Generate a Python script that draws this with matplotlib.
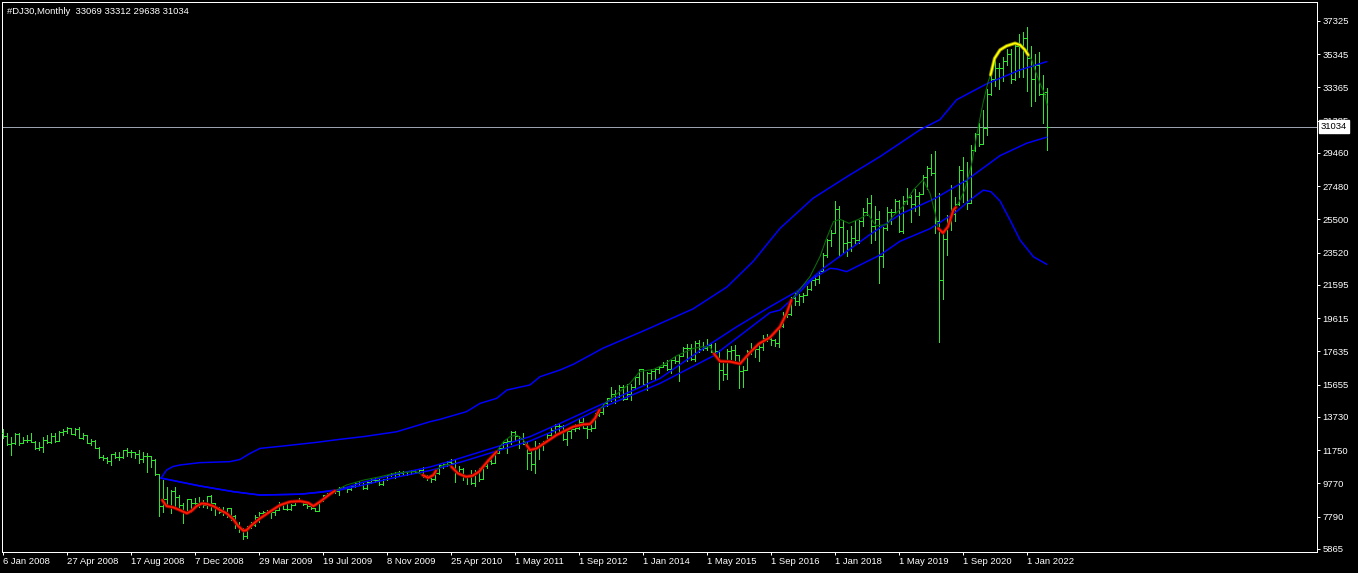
import numpy as np
import matplotlib.pyplot as plt
from matplotlib.transforms import blended_transform_factory

plt.rcParams['font.family'] = ['Liberation Sans', 'DejaVu Sans']

# OHLC bars (weekly 2008-2010, then monthly up to Jun 2022)
opens = [
    12800, 12606, 12099, 12207, 12743, 12182, 12348, 12381, 12266, 11894,
    11951, 12361, 12216, 12609, 12325, 12849, 12891, 13058, 12745, 12986,
    12479, 12638, 12209, 12307, 11870, 11346, 11288, 11100, 11496, 11370,
    11326, 11734, 11659, 11628, 11543, 11220, 11421, 11388, 11143, 10325,
    8451, 8852, 8378, 9325, 8943, 8497, 8046, 8829, 8635, 8629,
    8579, 8515, 9034, 8599, 8281, 8077, 8000, 8280, 7850, 7366,
    7062, 6627, 7224, 7279, 7776, 8018, 8083, 8131, 8076, 8212,
    8575, 8268, 8277, 8500, 8764, 8799, 8539, 8438, 8280, 8146,
    8743, 9093, 9171, 9370, 9321, 9505, 9544, 9441, 9605, 9820,
    9665, 9487, 9865, 9996, 9972, 9713, 10023, 10250, 10320, 10310,
    10390, 10470, 10330, 10520, 10430, 10600, 10170, 10070, 10010, 10400,
    10850, 10950, 11050, 11010, 10380, 10620, 10190, 10140, 9774, 10466,
    10015, 10788, 11118, 11006, 11578, 11892, 12226, 12320, 12811, 12570,
    12414, 12143, 11614, 10913, 11955, 12046, 12218, 12633, 12952, 13212,
    13214, 12393, 12880, 13009, 13091, 13437, 13096, 13026, 13104, 13861,
    14054, 14579, 14840, 15116, 14910, 15500, 14810, 15130, 15546, 16086,
    16577, 15699, 16322, 16458, 16581, 16717, 16827, 16563, 17098, 17043,
    17391, 17828, 17823, 17165, 18133, 17776, 17841, 18011, 17620, 17690,
    16528, 16285, 17664, 17720, 17425, 16466, 16517, 17685, 17774, 17787,
    17930, 18432, 18401, 18308, 18142, 19124, 19763, 19864, 20812, 20663,
    20941, 21009, 21350, 21891, 21948, 22405, 23377, 24272, 24719, 26149,
    25029, 24103, 24163, 24416, 24271, 25415, 25965, 26458, 25116, 25538,
    23327, 25000, 25916, 25929, 26593, 24815, 26600, 26864, 26403, 26917,
    27046, 28051, 28538, 28256, 25409, 21917, 24346, 25383, 25813, 26428,
    28430, 27782, 26502, 29638, 30606, 29983, 30932, 32982, 33874, 34529,
    34503, 34935, 35361, 33844, 35820, 34484, 36338, 35132, 33893, 34678,
    32977, 33069,
]
highs = [
    12990, 12756, 12520, 12760, 12756, 12557, 12657, 12756, 12319, 12259,
    12518, 12657, 12756, 12756, 12915, 12995, 13114, 13100, 13054, 13114,
    12756, 12657, 12398, 12359, 11961, 11464, 11365, 11510, 11663, 11663,
    11762, 11862, 11762, 11663, 11762, 11663, 11603, 11400, 11206, 10350,
    9974, 9537, 9378, 9537, 9080, 8583, 8850, 8850, 8882, 8981,
    8782, 9050, 9080, 8620, 8385, 8345, 8300, 8300, 7900, 7491,
    7093, 7250, 7500, 7900, 8050, 8150, 8200, 8150, 8250, 8650,
    8600, 8550, 8550, 8800, 8880, 8800, 8600, 8600, 8300, 8750,
    9100, 9200, 9400, 9400, 9550, 9600, 9550, 9650, 9850, 9900,
    9800, 9900, 10100, 10120, 10050, 10050, 10280, 10400, 10480, 10520,
    10520, 10510, 10550, 10600, 10650, 10730, 10300, 10250, 10450, 10870,
    11000, 11100, 11250, 11150, 10800, 10700, 10300, 10595, 10584, 10720,
    10948, 11245, 11451, 11625, 11986, 12284, 12419, 12876, 12876, 12570,
    12754, 12284, 11717, 12284, 12188, 12288, 12721, 13055, 13290, 13338,
    13279, 12898, 13109, 13330, 13653, 13662, 13290, 13315, 13970, 14150,
    14585, 14888, 15542, 15341, 15634, 15658, 15710, 15710, 16174, 16588,
    16588, 16398, 16588, 16631, 16736, 16978, 17152, 17154, 17350, 17395,
    17895, 18103, 18064, 18244, 18288, 18175, 18351, 18137, 18138, 17717,
    16933, 17799, 17978, 17996, 17425, 16795, 17716, 18168, 17935, 18017,
    18622, 18668, 18450, 18399, 19152, 19987, 20125, 20851, 21169, 21071,
    21113, 21535, 21929, 22180, 22420, 23485, 24328, 24876, 26617, 26307,
    25449, 24858, 25087, 25402, 25467, 26168, 26769, 26952, 26278, 25980,
    25076, 26241, 26109, 26696, 26666, 26907, 27399, 26980, 27307, 27123,
    28174, 28701, 29374, 29568, 27102, 24764, 25758, 27580, 26838, 28659,
    29199, 28903, 29964, 30637, 31272, 32009, 33259, 34256, 35091, 34849,
    35171, 35632, 35631, 35892, 36565, 36679, 36953, 35824, 35372, 35492,
    34118, 33312,
]
lows = [
    12500, 12060, 11450, 12130, 12060, 12160, 12259, 12259, 11802, 11762,
    11663, 12160, 12200, 12259, 12320, 12657, 12756, 12700, 12657, 12458,
    12398, 12160, 12060, 11862, 11266, 11166, 10968, 10868, 11266, 11166,
    11266, 11405, 11365, 11266, 10968, 11067, 10471, 10769, 10272, 7828,
    8087, 8385, 7987, 8285, 8186, 7431, 7987, 8087, 8285, 8385,
    8385, 8285, 8186, 7888, 7987, 7888, 7789, 7590, 7093, 6894,
    6470, 6500, 7100, 7250, 7450, 7800, 7950, 7700, 7900, 8200,
    8250, 8200, 8200, 8500, 8650, 8500, 8300, 8250, 8100, 8100,
    8700, 9000, 9150, 9200, 9100, 9450, 9250, 9400, 9550, 9650,
    9430, 9450, 9800, 9850, 9700, 9650, 9980, 10220, 10100, 10250,
    10300, 10250, 10320, 10420, 10400, 10150, 9950, 9830, 9950, 10350,
    10700, 10800, 10950, 9870, 10300, 9950, 9760, 9757, 9614, 9936,
    10006, 10711, 10930, 11006, 11578, 11857, 11555, 12093, 12355, 11862,
    12093, 10604, 10597, 10404, 11231, 11735, 12218, 12611, 12741, 12710,
    12354, 12035, 12492, 12898, 13000, 13052, 12471, 12884, 13104, 13784,
    13937, 14398, 14700, 14551, 14910, 14760, 14777, 14719, 15440, 15703,
    15699, 15341, 16002, 16015, 16333, 16705, 16548, 16333, 16945, 15855,
    17367, 17067, 17136, 17037, 17585, 17699, 17736, 17580, 17400, 15370,
    15942, 16014, 17207, 17138, 15451, 15503, 16510, 17484, 17331, 17063,
    17713, 18262, 18009, 17959, 17884, 19098, 19677, 19832, 20412, 20379,
    20554, 21006, 21279, 21600, 21709, 22405, 23242, 23921, 24719, 23360,
    23509, 23344, 23646, 24076, 24077, 25123, 25790, 24122, 24268, 21713,
    22638, 24884, 25208, 25900, 24781, 24680, 26441, 25339, 25978, 25743,
    27040, 27325, 28170, 24681, 18213, 20735, 23361, 24843, 25391, 26365,
    26537, 26143, 26501, 29568, 29857, 29983, 30547, 32924, 33473, 33271,
    33741, 34694, 33613, 33785, 34006, 34006, 33150, 32272, 32578, 32914,
    31228, 29638,
]
closes = [
    12606, 12099, 12207, 12743, 12182, 12348, 12381, 12266, 11894, 11951,
    12361, 12216, 12609, 12325, 12849, 12891, 13058, 12745, 12986, 12479,
    12638, 12209, 12307, 11870, 11346, 11288, 11100, 11496, 11370, 11326,
    11734, 11659, 11628, 11543, 11220, 11421, 11388, 11143, 10325, 8451,
    8852, 8378, 9325, 8943, 8497, 8046, 8829, 8635, 8629, 8579,
    8515, 9034, 8599, 8281, 8077, 8000, 8280, 7850, 7366, 7062,
    6627, 7224, 7279, 7776, 8018, 8083, 8131, 8076, 8212, 8575,
    8268, 8277, 8500, 8764, 8799, 8539, 8438, 8280, 8146, 8743,
    9093, 9171, 9370, 9321, 9505, 9544, 9441, 9605, 9820, 9665,
    9487, 9865, 9996, 9972, 9713, 10023, 10250, 10320, 10310, 10390,
    10470, 10330, 10520, 10430, 10600, 10170, 10070, 10010, 10400, 10850,
    10950, 11050, 11010, 10380, 10620, 10190, 10140, 9774, 10466, 10015,
    10788, 11118, 11006, 11578, 11892, 12226, 12320, 12811, 12570, 12414,
    12143, 11614, 10913, 11955, 12046, 12218, 12633, 12952, 13212, 13214,
    12393, 12880, 13009, 13091, 13437, 13096, 13026, 13104, 13861, 14054,
    14579, 14840, 15116, 14910, 15500, 14810, 15130, 15546, 16086, 16577,
    15699, 16322, 16458, 16581, 16717, 16827, 16563, 17098, 17043, 17391,
    17828, 17823, 17165, 18133, 17776, 17841, 18011, 17620, 17690, 16528,
    16285, 17664, 17720, 17425, 16466, 16517, 17685, 17774, 17787, 17930,
    18432, 18401, 18308, 18142, 19124, 19763, 19864, 20812, 20663, 20941,
    21009, 21350, 21891, 21948, 22405, 23377, 24272, 24719, 26149, 25029,
    24103, 24163, 24416, 24271, 25415, 25965, 26458, 25116, 25538, 23327,
    25000, 25916, 25929, 26593, 24815, 26600, 26864, 26403, 26917, 27046,
    28051, 28538, 28256, 25409, 21917, 24346, 25383, 25813, 26428, 28430,
    27782, 26502, 29638, 30606, 29983, 30932, 32982, 33874, 34529, 34503,
    34935, 35361, 33844, 35820, 34484, 36338, 35132, 33893, 34678, 32977,
    32990, 31034,
]

# indicator lines (bar position, value)
upper_i = [39.5, 40.9, 42.5, 44.25, 49.25, 56.75, 59.25, 61.75, 64.25, 70.0,
           78.4, 84.25, 90.1, 98.4, 106.75, 109.25, 115.9, 119.25, 123.4, 126.0,
           131.75, 134.25, 139.25, 142.6, 150.0, 160.5, 172.5, 181.0, 187.5, 194.25,
           202.5, 211.0, 219.25, 225.5, 229.25, 234.25, 238.4, 245.9, 254.25, 260.9]
upper_v = [10090, 10570, 10780, 10870, 11010, 11070, 11200, 11560, 11860, 12000,
           12220, 12400, 12560, 12850, 13450, 13590, 14050, 14540, 14840, 15340,
           15640, 16130, 16530, 16870, 17830, 18900, 20170, 21480, 22990, 24970,
           26760, 28050, 29245, 30240, 30840, 31450, 32630, 33580, 34410, 34900]

mid_a_i = [39.5, 49.25, 57.6, 64.25, 74.25, 79.25, 84.25, 90.1, 98.4, 106.75,
           111.75, 115.25, 123.4, 131.75, 139.25, 149.25, 164.25, 175.0, 183.4, 191.75,
           198.4, 205.1, 216.75, 224.25, 233.0, 241.0, 249.25, 255.9, 260.9]
mid_a_v = [10090, 9620, 9280, 9080, 9130, 9260, 9420, 9850, 10330, 10750,
           11090, 11350, 11950, 12560, 13350, 14440, 16030, 17800, 19100, 20300,
           21200, 22590, 24600, 25800, 26750, 27860, 29300, 30040, 30400]

mid_b_i = [39.5, 49.25, 57.6, 64.25, 74.25, 79.25, 84.25, 90.1, 98.4, 106.75,
           111.75, 115.25, 123.4, 131.75, 139.25, 149.25, 164.25, 177.6, 191.75, 194.25,
           198.4, 202.6, 206.75, 208.5, 210.9, 219.25, 224.25, 231.75, 238.0, 242.0,
           245.1, 247.0, 249.25, 251.75, 254.25, 257.6, 260.9]
mid_b_v = [10090, 9620, 9280, 9080, 9130, 9240, 9380, 9680, 10150, 10540,
           10860, 11100, 11700, 12300, 13050, 14245, 15735, 17370, 19950, 20100,
           21000, 22000, 22590, 22550, 22390, 23380, 24200, 24950, 25900, 26700,
           27250, 27150, 26600, 25470, 24280, 23280, 22830]

hma_i = [39.8, 40.9, 42.6, 44.7, 46.0, 47.2, 48.4, 49.7, 51.0, 52.6,
         54.25, 55.9, 57.6, 58.8, 60.1, 60.9, 62.2, 64.25, 66.75, 69.25,
         71.75, 74.25, 76.3, 77.6, 79.25, 81.75, 83.0, 85.9, 90.1, 94.25,
         98.4, 103.4, 104.9, 106.3, 107.6, 108.25, 109.6, 111.25, 112.1, 113.75,
         115.75, 117.4, 119.0, 121.1, 123.4, 125.1, 126.75, 128.4, 130.1, 130.9,
         131.75, 133.4, 135.9, 138.4, 140.1, 142.6, 145.1, 146.75, 148.0, 149.1,
         150.9, 152.6, 156.75, 159.25, 162.6, 165.5, 168.4, 172.6, 175.0, 176.75,
         177.75, 179.25, 181.75, 184.25, 186.75, 189.0, 191.75, 194.25, 195.9, 197.1,
         198.4, 201.75, 204.25, 205.9, 207.6, 209.25, 211.5, 214.0, 216.2, 218.3,
         220.9, 222.5, 225.0, 227.6, 230.0, 231.75, 233.0, 233.8, 235.0, 236.25,
         237.6, 238.2, 239.25, 240.5, 242.2, 243.8, 245.0, 246.3, 246.9, 247.9,
         249.25, 250.9, 253.0, 254.25, 255.5, 256.3, 257.2, 258.0, 259.25, 260.5,
         261.0]
hma_v = [8780, 8420, 8345, 8130, 7990, 8150, 8420, 8580, 8545, 8420,
         8190, 7990, 7630, 7230, 6950, 6990, 7290, 7690, 8090, 8480,
         8680, 8720, 8620, 8420, 8680, 9140, 9330, 9680, 9970, 10170,
         10410, 10470, 10270, 10110, 10270, 10530, 10810, 10930, 10770, 10370,
         10170, 10230, 10470, 11070, 11660, 12260, 12560, 12660, 12360, 12060,
         11760, 11860, 12260, 12660, 12860, 13150, 13290, 13310, 13650, 14150,
         14640, 14940, 15740, 16450, 16560, 16900, 17380, 17820, 17920, 17900,
         17500, 17050, 17030, 16900, 17570, 18100, 18470, 19110, 19900, 20700,
         21100, 22100, 23290, 24380, 25370, 25510, 25270, 25520, 25820, 25120,
         25200, 25700, 26270, 27260, 27860, 27060, 25900, 24970, 24700, 25070,
         26070, 26220, 26660, 27300, 28850, 31000, 32430, 33720, 34110, 35100,
         35600, 35840, 36000, 35900, 35600, 35300, 35000, 34410, 33620, 32920,
         32330]
red_ranges = [(39.8, 83.0), (104.9, 108.25), (112.1, 123.4), (130.9, 149.1),
              (177.75, 197.1), (233.8, 238.2)]
yellow_ranges = [(246.9, 256.3)]

last_price = 31034
title = "#DJ30,Monthly  33069 33312 29638 31034"

price_ticks = [37325, 35345, 33365, 31385, 29460, 27480, 25500, 23520, 21595,
               19615, 17635, 15655, 13730, 11750, 9770, 7790, 5865]
date_bars = list(range(0, 257, 16))
date_labels = ["6 Jan 2008", "27 Apr 2008", "17 Aug 2008", "7 Dec 2008",
               "29 Mar 2009", "19 Jul 2009", "8 Nov 2009", "25 Apr 2010",
               "1 May 2011", "1 Sep 2012", "1 Jan 2014", "1 May 2015",
               "1 Sep 2016", "1 Jan 2018", "1 May 2019", "1 Sep 2020", "1 Jan 2022"]

W, H = 1358, 573
px = 0.72  # one pixel in points at dpi 100
fig = plt.figure(figsize=(W / 100, H / 100), dpi=100, facecolor='black')
ax = fig.add_axes([2 / W, 21 / H, 1315 / W, 550 / H], facecolor='black')
ax.set_xlim(-0.25, 328.5)
ax.set_ylim(5686, 38457)

bar_col = '#2ee62e'
x = np.arange(len(closes))
ax.vlines(x, lows, highs, color=bar_col, lw=px, antialiased=False, zorder=3)
ax.hlines(opens, x - 0.5, x, color=bar_col, lw=px, antialiased=False, zorder=3)
ax.hlines(closes, x, x + 0.5, color=bar_col, lw=px, antialiased=False, zorder=3)

for li, lv in [(upper_i, upper_v), (mid_a_i, mid_a_v), (mid_b_i, mid_b_v)]:
    ax.plot(li, lv, color='#0000ff', lw=1.5 * px, zorder=4)

ax.plot(hma_i, hma_v, color='#0a6a0a', lw=1.1 * px, zorder=5)
for ranges, edge, core in [(red_ranges, '#8b0000', '#ff1a00'),
                           (yellow_ranges, '#8a8a00', '#ffff00')]:
    for lo, hi in ranges:
        seg = [(a, b) for a, b in zip(hma_i, hma_v) if lo <= a <= hi]
        sx, sy = zip(*seg)
        ax.plot(sx, sy, color=edge, lw=3.6 * px, solid_capstyle='round', zorder=6)
        ax.plot(sx, sy, color=core, lw=1.8 * px, solid_capstyle='round', zorder=7)

ax.axhline(last_price, color='#9aa2b0', lw=px, zorder=2)

for s in ax.spines.values():
    s.set_color('white')
    s.set_linewidth(px)

ax.yaxis.tick_right()
ax.set_yticks(price_ticks)
ax.set_yticklabels([str(v) for v in price_ticks])
ax.tick_params(axis='y', colors='white', length=2.2, width=px, pad=1.8, labelsize=6.8)
ax.set_xticks(date_bars)
ax.set_xticklabels(date_labels, ha='left')
ax.tick_params(axis='x', colors='white', length=2.2, width=px, pad=1.5, labelsize=6.8)

# current price label box on the price scale
tr = blended_transform_factory(ax.transAxes, ax.transData)
ax.text(1 + 4 / 1315, last_price, str(last_price), transform=tr, ha='left', va='center',
        color='black', fontsize=6.8, clip_on=False, zorder=10,
        bbox=dict(boxstyle='square,pad=0.2', fc='white', ec='white'))

fig.text(7 / W, 1 - 11 / H, title, color='white', fontsize=6.8, ha='left', va='center')

fig.savefig('out.png', dpi=100, facecolor='black')
